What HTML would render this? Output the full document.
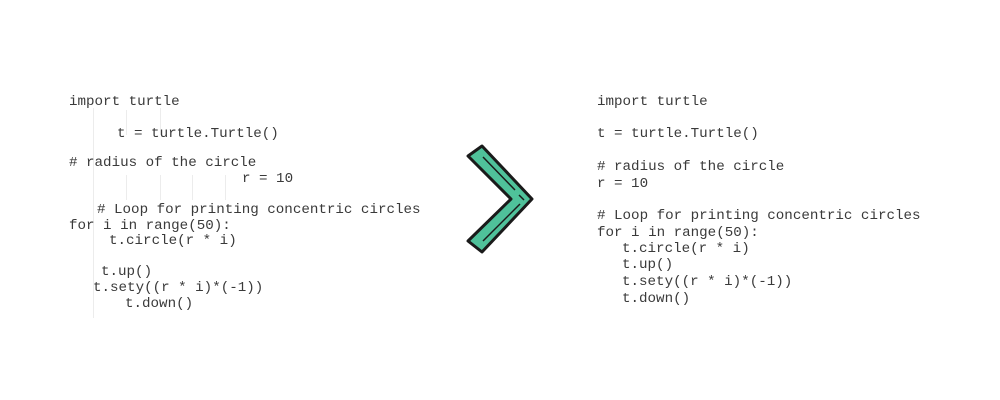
<!DOCTYPE html>
<html><head><style>
html,body{margin:0;padding:0;background:#fff;}
svg{display:block;}
text{font-family:"Liberation Mono",monospace;font-size:14.2px;fill:#3a3a3a;white-space:pre;}
</style></head><body>
<svg width="1000" height="400" viewBox="0 0 1000 400" xmlns="http://www.w3.org/2000/svg">
<g stroke="#ececec" stroke-width="1">
<line x1="93.5" y1="108" x2="93.5" y2="318"/>
<line x1="126.5" y1="110" x2="126.5" y2="135"/>
<line x1="160.5" y1="108" x2="160.5" y2="135"/>
<line x1="126.5" y1="175" x2="126.5" y2="200"/>
<line x1="160.5" y1="175" x2="160.5" y2="200"/>
<line x1="192.5" y1="175" x2="192.5" y2="200"/>
<line x1="225.5" y1="175" x2="225.5" y2="200"/>
</g>
<g>
<text x="69" y="105">import turtle</text>
<text x="117" y="137">t = turtle.Turtle()</text>
<text x="69" y="166"># radius of the circle</text>
<text x="242" y="182">r = 10</text>
<text x="97" y="213"># Loop for printing concentric circles</text>
<text x="69" y="229">for i in range(50):</text>
<text x="109" y="244">t.circle(r * i)</text>
<text x="101" y="275">t.up()</text>
<text x="93" y="291">t.sety((r * i)*(-1))</text>
<text x="125" y="307">t.down()</text>
</g>
<g style="font-size:14.5px">
<text x="597" y="105">import turtle</text>
<text x="597" y="137">t = turtle.Turtle()</text>
<text x="597" y="170"># radius of the circle</text>
<text x="597" y="187">r = 10</text>
<text x="597" y="219"># Loop for printing concentric circles</text>
<text x="597" y="236">for i in range(50):</text>
<text x="622" y="252">t.circle(r * i)</text>
<text x="622" y="268">t.up()</text>
<text x="622" y="285">t.sety((r * i)*(-1))</text>
<text x="622" y="302">t.down()</text>
</g>
<polygon points="468,156 482,146 532,199 482,252 468,241 511,199" fill="#4fc19a" stroke="#1a1a1a" stroke-width="3" stroke-linejoin="round"/>
<line x1="483" y1="157" x2="515" y2="190" stroke="#1a1a1a" stroke-width="1.5"/>
<line x1="519" y1="195" x2="524" y2="200" stroke="#1a1a1a" stroke-width="1.5"/>
<line x1="483" y1="241" x2="520" y2="204" stroke="#1a1a1a" stroke-width="1.5"/>
</svg>
</body></html>
